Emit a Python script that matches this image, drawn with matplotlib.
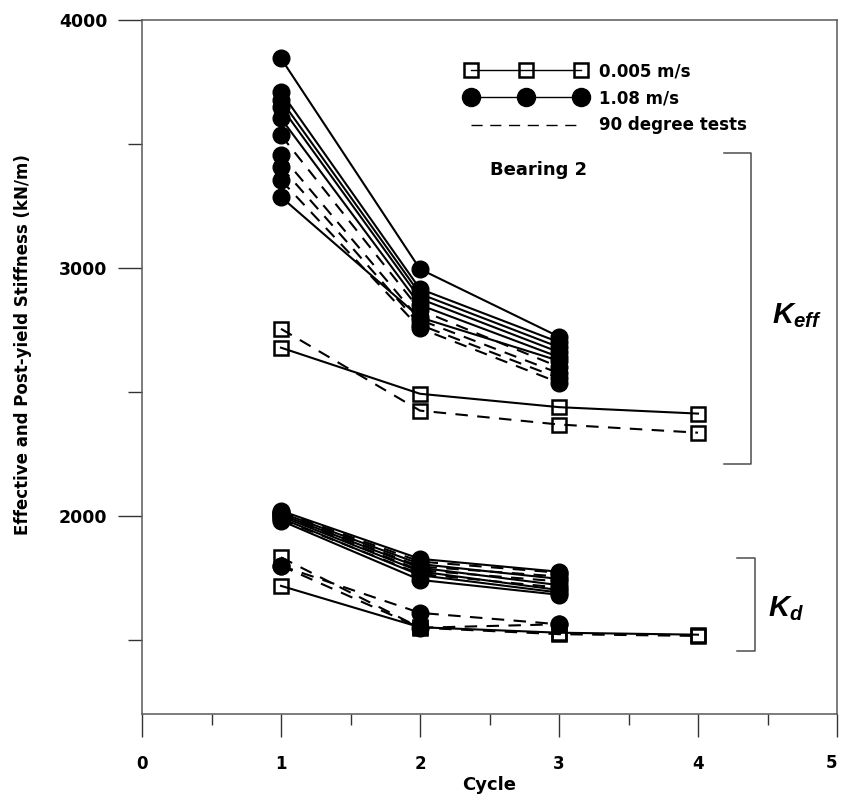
import matplotlib
matplotlib.use("Agg")
import matplotlib.pyplot as plt
from matplotlib.lines import Line2D
from matplotlib.ticker import MultipleLocator, FixedLocator, FuncFormatter

plt.rcParams['font.family'] = 'DejaVu Sans'
plt.rcParams['font.weight'] = 'bold'
plt.rcParams['mathtext.fontset'] = 'custom'
plt.rcParams['mathtext.it'] = 'Liberation Sans:italic:bold'
plt.rcParams['mathtext.rm'] = 'Liberation Sans:bold'

cycles_fast = [1, 2, 3]
cycles_slow = [1, 2, 3, 4]

# effective stiffness, 1.08 m/s (solid = 0 deg, dashed = 90 deg)
keff_fast_solid = [
    [3845, 2995, 2722],
    [3710, 2915, 2700],
    [3677, 2895, 2680],
    [3650, 2875, 2660],
    [3603, 2850, 2640],
    [3286, 2800, 2625],
]
keff_fast_dashed = [
    [3535, 2830, 2600],
    [3455, 2790, 2575],
    [3407, 2770, 2555],
    [3354, 2756, 2537],
]
# post-yield stiffness, 1.08 m/s
kd_fast_solid = [
    [2020, 1826, 1774],
    [2012, 1805, 1745],
    [2005, 1790, 1720],
    [1998, 1775, 1700],
    [1990, 1760, 1690],
    [1980, 1741, 1681],
]
kd_fast_dashed = [
    [2015, 1815, 1770],
    [2008, 1795, 1755],
    [2000, 1780, 1735],
    [1985, 1765, 1710],
    [1798, 1608, 1562],
    [1798, 1548, 1562],
]
# 0.005 m/s tests
keff_slow_solid = [[2678, 2492, 2438, 2412]]
keff_slow_dashed = [[2754, 2424, 2368, 2335]]
kd_slow_solid = [[1717, 1550, 1528, 1520]]
kd_slow_dashed = [[1832, 1548, 1522, 1515]]

# bracket annotation positions (x_left, x_right, y_bottom, y_top)
keff_bracket = (4.19, 4.38, 2210, 3463)
kd_bracket = (4.28, 4.41, 1455, 1830)

fig = plt.figure(figsize=(8.41, 7.99), dpi=100)
ax = fig.add_axes([142 / 841, 1 - 714 / 799, 695 / 841, 694 / 799])

lw = 1.5
dash = (6, 4.5)
sq = dict(marker='s', markersize=10, markerfacecolor='none',
          markeredgecolor='black', markeredgewidth=1.8)
ci = dict(marker='o', markersize=12, markerfacecolor='black',
          markeredgecolor='black')

for vals in keff_fast_dashed + kd_fast_dashed:
    ax.plot(cycles_fast, vals, color='black', lw=lw, ls=(0, dash), **ci)
for vals in keff_fast_solid + kd_fast_solid:
    ax.plot(cycles_fast, vals, color='black', lw=lw, **ci)
for vals in keff_slow_dashed + kd_slow_dashed:
    ax.plot(cycles_slow, vals, color='black', lw=lw, ls=(0, dash), **sq)
for vals in keff_slow_solid + kd_slow_solid:
    ax.plot(cycles_slow, vals, color='black', lw=lw, **sq)

# brackets
for (x0, x1, y0, y1) in [keff_bracket, kd_bracket]:
    ax.plot([x0, x1, x1, x0], [y1, y1, y0, y0], color='0.3', lw=1.1)

ax.text(4.53, 2776, r'$K_{eff}$', fontsize=21, ha='left', va='baseline')
ax.text(4.50, 1596, r'$K_d$', fontsize=21, ha='left', va='baseline')
ax.text(2.85, 3394, 'Bearing 2', fontsize=13, fontweight='bold',
        ha='center', va='center')

ax.set_xlim(0, 5)
ax.set_ylim(1200, 4000)
ax.xaxis.set_major_locator(MultipleLocator(1))
ax.xaxis.set_minor_locator(MultipleLocator(0.5))
# the last label (5) sits on the figure edge, so it is drawn separately below
ax.xaxis.set_major_formatter(FuncFormatter(lambda v, p: '' if v >= 5 else '%d' % v))
ax.yaxis.set_major_locator(FixedLocator([2000, 3000, 4000]))
ax.yaxis.set_minor_locator(FixedLocator([1500, 2500, 3500]))
ax.tick_params(axis='x', which='major', direction='out', length=16.5, width=1,
               pad=13, labelsize=12, color='0.2')
ax.tick_params(axis='x', which='minor', direction='out', length=8, width=1,
               color='0.2')
ax.tick_params(axis='y', which='major', direction='out', length=17, width=1,
               pad=8, labelsize=12.5, color='0.2')
ax.tick_params(axis='y', which='minor', direction='out', length=10, width=1,
               color='0.2')
ax.text(5.0, -0.0705, '5', transform=ax.get_xaxis_transform(), fontsize=12,
        fontweight='bold', ha='right', va='center', clip_on=False)
for sp in ax.spines.values():
    sp.set_color('0.35')
    sp.set_linewidth(1.1)

ax.set_xlabel('Cycle', fontsize=13, fontweight='bold', labelpad=2)
ax.set_ylabel('Effective and Post-yield Stiffness (kN/m)', fontsize=12,
              fontweight='bold')
ax.yaxis.set_label_coords(-0.158, 0.533)

handles = [
    Line2D([], [], color='black', lw=1, marker='s', markersize=10,
           markerfacecolor='none', markeredgewidth=1.8),
    Line2D([], [], color='black', lw=1, marker='o', markersize=13),
    Line2D([], [], color='black', lw=1, ls=(0, (8, 5.5))),
]
labels = ['0.005 m/s', '1.08 m/s', '90 degree tests']
leg = ax.legend(handles, labels, numpoints=3, frameon=False,
                loc='upper left', bbox_to_anchor=(466 / 841, 1 - 62 / 799),
                bbox_transform=fig.transFigure, borderaxespad=0, borderpad=0,
                handlelength=7.2, handletextpad=0.8, labelspacing=0.55,
                prop={'weight': 'bold', 'size': 12})

fig.savefig('out.png', dpi=100)
